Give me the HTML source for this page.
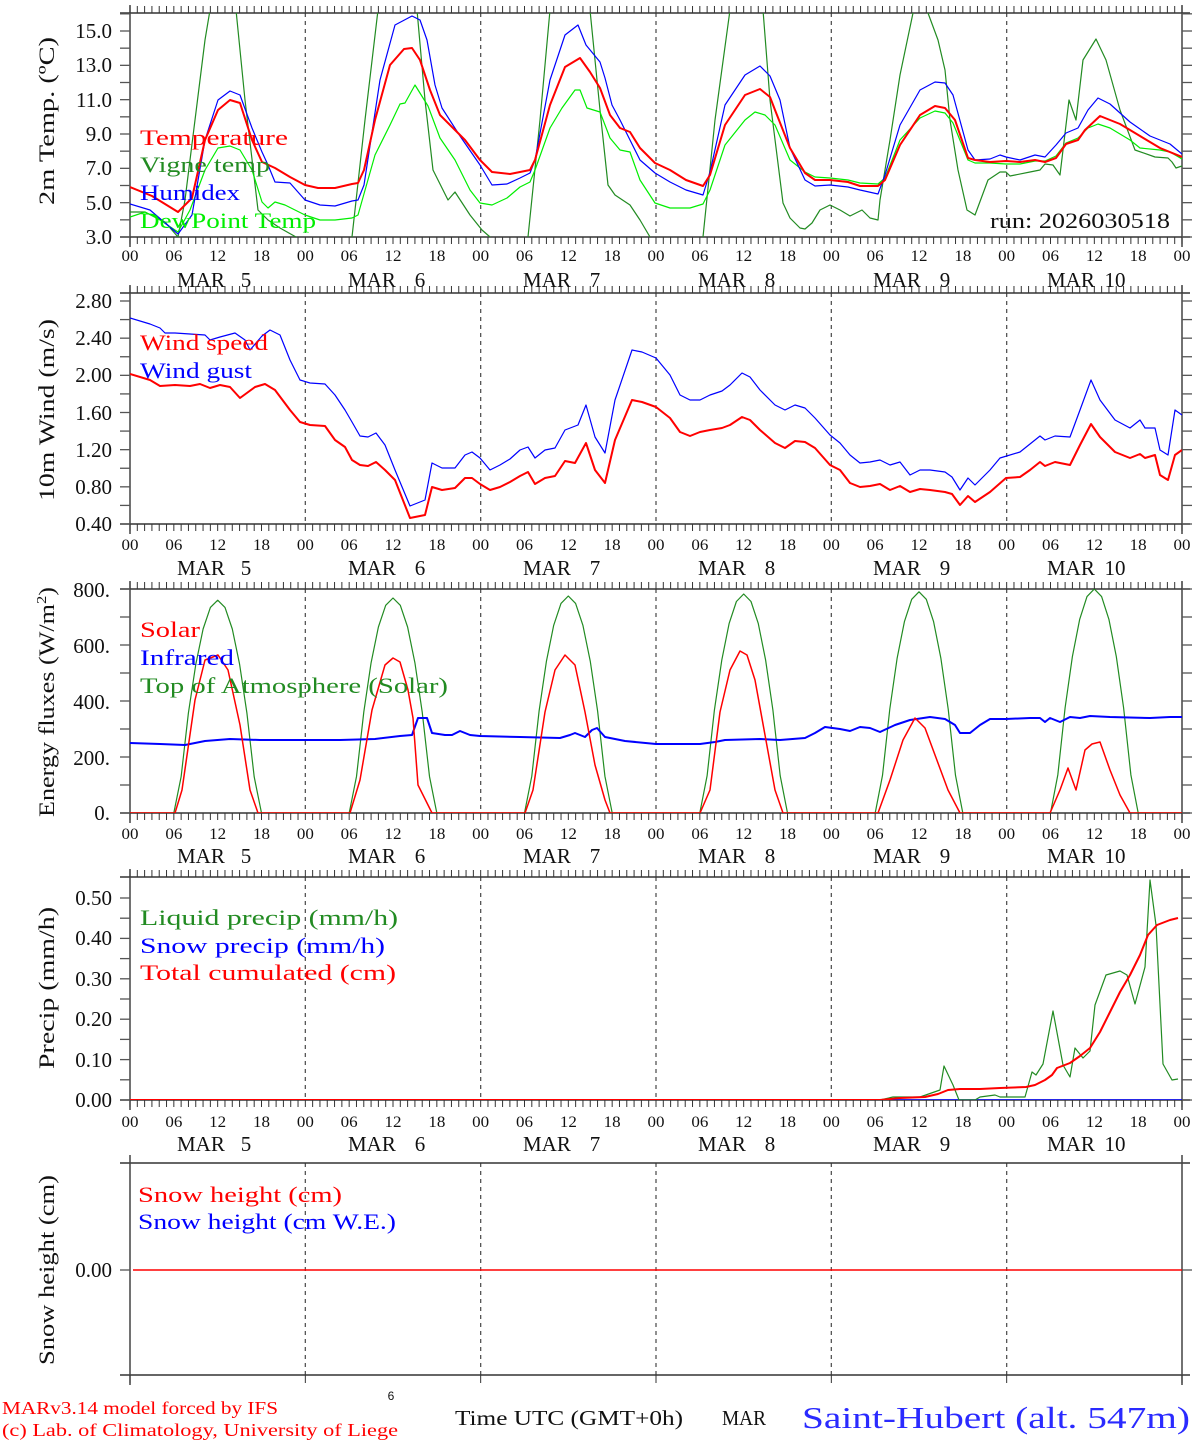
<!DOCTYPE html>
<html><head><meta charset="utf-8"><style>
html,body{margin:0;padding:0;background:#fff;}
svg{display:block;font-family:"Liberation Serif",serif;}
.t{font-size:21px;fill:#111;}
.xl{font-size:16px;fill:#111;}
.lg{font-size:22px;}
</style></head><body>
<svg id="s" width="1194" height="1440" viewBox="0 0 1194 1440" xmlns="http://www.w3.org/2000/svg">
<g id="g"></g>
<g class="t" text-anchor="end">
<text x="112" y="38">15.0</text><text x="112" y="72">13.0</text><text x="112" y="107">11.0</text><text x="112" y="141">9.0</text><text x="112" y="175">7.0</text><text x="112" y="210">5.0</text><text x="112" y="244">3.0</text>
<text x="112" y="308">2.80</text><text x="112" y="345">2.40</text><text x="112" y="382">2.00</text><text x="112" y="420">1.60</text><text x="112" y="457">1.20</text><text x="112" y="494">0.80</text><text x="112" y="531">0.40</text>
<text x="110" y="597">800.</text><text x="110" y="653">600.</text><text x="110" y="709">400.</text><text x="110" y="765">200.</text><text x="110" y="820">0.</text>
<text x="112" y="905">0.50</text><text x="112" y="945">0.40</text><text x="112" y="986">0.30</text><text x="112" y="1026">0.20</text><text x="112" y="1067">0.10</text><text x="112" y="1107">0.00</text>
<text x="112" y="1277">0.00</text>
</g>
<g class="t" text-anchor="middle" style="font-size:22px">
<text transform="translate(54,121) rotate(-90)" textLength="168" lengthAdjust="spacingAndGlyphs">2m Temp. (ºC)</text>
<text transform="translate(54,410) rotate(-90)" textLength="182" lengthAdjust="spacingAndGlyphs">10m Wind (m/s)</text>
<text transform="translate(54,702) rotate(-90)" textLength="230" lengthAdjust="spacingAndGlyphs">Energy fluxes (W/m<tspan dy="-8" font-size="14">2</tspan><tspan dy="8">)</tspan></text>
<text transform="translate(54,988) rotate(-90)" textLength="162" lengthAdjust="spacingAndGlyphs">Precip (mm/h)</text>
<text transform="translate(54,1270) rotate(-90)" textLength="190" lengthAdjust="spacingAndGlyphs">Snow height (cm)</text>
</g>
<g class="t" style="font-size:21px">
<text x="177" y="287">MAR</text><text x="246" y="287" text-anchor="middle">5</text>
<text x="348" y="287">MAR</text><text x="420" y="287" text-anchor="middle">6</text>
<text x="523" y="287">MAR</text><text x="595" y="287" text-anchor="middle">7</text>
<text x="698" y="287">MAR</text><text x="770" y="287" text-anchor="middle">8</text>
<text x="873" y="287">MAR</text><text x="945" y="287" text-anchor="middle">9</text>
<text x="1047" y="287">MAR</text><text x="1115" y="287" text-anchor="middle">10</text>
</g>
<g class="t" style="font-size:21px" transform="translate(0,288)">
<text x="177" y="287">MAR</text><text x="246" y="287" text-anchor="middle">5</text>
<text x="348" y="287">MAR</text><text x="420" y="287" text-anchor="middle">6</text>
<text x="523" y="287">MAR</text><text x="595" y="287" text-anchor="middle">7</text>
<text x="698" y="287">MAR</text><text x="770" y="287" text-anchor="middle">8</text>
<text x="873" y="287">MAR</text><text x="945" y="287" text-anchor="middle">9</text>
<text x="1047" y="287">MAR</text><text x="1115" y="287" text-anchor="middle">10</text>
</g>
<g class="t" style="font-size:21px" transform="translate(0,576)">
<text x="177" y="287">MAR</text><text x="246" y="287" text-anchor="middle">5</text>
<text x="348" y="287">MAR</text><text x="420" y="287" text-anchor="middle">6</text>
<text x="523" y="287">MAR</text><text x="595" y="287" text-anchor="middle">7</text>
<text x="698" y="287">MAR</text><text x="770" y="287" text-anchor="middle">8</text>
<text x="873" y="287">MAR</text><text x="945" y="287" text-anchor="middle">9</text>
<text x="1047" y="287">MAR</text><text x="1115" y="287" text-anchor="middle">10</text>
</g>
<g class="t" style="font-size:21px" transform="translate(0,864)">
<text x="177" y="287">MAR</text><text x="246" y="287" text-anchor="middle">5</text>
<text x="348" y="287">MAR</text><text x="420" y="287" text-anchor="middle">6</text>
<text x="523" y="287">MAR</text><text x="595" y="287" text-anchor="middle">7</text>
<text x="698" y="287">MAR</text><text x="770" y="287" text-anchor="middle">8</text>
<text x="873" y="287">MAR</text><text x="945" y="287" text-anchor="middle">9</text>
<text x="1047" y="287">MAR</text><text x="1115" y="287" text-anchor="middle">10</text>
</g>
<g class="xl" text-anchor="middle" id="xt">
<text x="130" y="261">00</text>
</g>
<g class="lg" lengthAdjust="spacingAndGlyphs">
<text x="140" y="145" fill="#ff0000" textLength="148" lengthAdjust="spacingAndGlyphs">Temperature</text>
<text x="140" y="172" fill="#228b22" textLength="130" lengthAdjust="spacingAndGlyphs">Vigne temp</text>
<text x="140" y="200" fill="#0000ff" textLength="100" lengthAdjust="spacingAndGlyphs">Humidex</text>
<text x="140" y="228" fill="#00ee00" textLength="176" lengthAdjust="spacingAndGlyphs">DewPoint Temp</text>
<text x="1170" y="228" fill="#111" text-anchor="end" textLength="180" lengthAdjust="spacingAndGlyphs">run: 2026030518</text>
<text x="140" y="350" fill="#ff0000" textLength="128" lengthAdjust="spacingAndGlyphs">Wind speed</text>
<text x="140" y="378" fill="#0000ff" textLength="112" lengthAdjust="spacingAndGlyphs">Wind gust</text>
<text x="140" y="637" fill="#ff0000" textLength="60" lengthAdjust="spacingAndGlyphs">Solar</text>
<text x="140" y="665" fill="#0000ff" textLength="94" lengthAdjust="spacingAndGlyphs">Infrared</text>
<text x="140" y="693" fill="#228b22" textLength="308" lengthAdjust="spacingAndGlyphs">Top of Atmosphere (Solar)</text>
<text x="140" y="925" fill="#228b22" textLength="258" lengthAdjust="spacingAndGlyphs">Liquid precip (mm/h)</text>
<text x="140" y="953" fill="#0000ff" textLength="245" lengthAdjust="spacingAndGlyphs">Snow precip (mm/h)</text>
<text x="140" y="980" fill="#ff0000" textLength="256" lengthAdjust="spacingAndGlyphs">Total cumulated (cm)</text>
<text x="138" y="1202" fill="#ff0000" textLength="204" lengthAdjust="spacingAndGlyphs">Snow height (cm)</text>
<text x="138" y="1229" fill="#0000ff" textLength="258" lengthAdjust="spacingAndGlyphs">Snow height (cm W.E.)</text>
</g>
<text x="391" y="1400" font-size="12" text-anchor="middle" fill="#111" font-family="Liberation Sans,sans-serif">6</text>
<text x="2" y="1414" font-size="18" fill="#ff0000" textLength="276" lengthAdjust="spacingAndGlyphs">MARv3.14 model forced by IFS</text>
<text x="2" y="1436" font-size="18" fill="#ff0000" textLength="396" lengthAdjust="spacingAndGlyphs">(c) Lab. of Climatology, University of Liege</text>
<text x="455" y="1425" font-size="21" fill="#111" textLength="228" lengthAdjust="spacingAndGlyphs">Time UTC (GMT+0h)</text>
<text x="722" y="1425" font-size="21" fill="#111" textLength="44" lengthAdjust="spacingAndGlyphs">MAR</text>
<text x="802" y="1428" font-size="31" fill="#2a2aff" textLength="388" lengthAdjust="spacingAndGlyphs">Saint-Hubert (alt. 547m)</text>
</svg>
<script>
(function(){
var NS="http://www.w3.org/2000/svg",g=document.getElementById('g');
function el(n,a){var e=document.createElementNS(NS,n);for(var k in a)e.setAttribute(k,a[k]);g.appendChild(e);return e;}
function X(h){return 130+h*1052/144;}
var P=[[13,237],[293,524],[589,813],[877,1100],[1163,1375]];
var defs=document.createElementNS(NS,'defs');g.appendChild(defs);
P.forEach(function(p,i){var c=document.createElementNS(NS,'clipPath');c.setAttribute('id','c'+i);var r=document.createElementNS(NS,'rect');r.setAttribute('x',130);r.setAttribute('y',p[0]);r.setAttribute('width',1052);r.setAttribute('height',p[1]-p[0]);c.appendChild(r);defs.appendChild(c);});
P.forEach(function(p,i){
 for(var d=1;d<6;d++){el('line',{x1:X(24*d),x2:X(24*d),y1:p[0],y2:p[1],stroke:'#555','stroke-dasharray':'4,4','stroke-width':1.3});}
 el('line',{x1:120,x2:1190,y1:p[0],y2:p[0],stroke:'#333','stroke-width':1.5});
 el('line',{x1:120,x2:1190,y1:p[1],y2:p[1],stroke:'#333','stroke-width':1.5});
 el('line',{x1:130,x2:130,y1:p[0]-8,y2:p[1]+10,stroke:'#444','stroke-width':1.5});
 el('line',{x1:1182,x2:1182,y1:p[0]-8,y2:p[1]+10,stroke:'#444','stroke-width':1.5});
 if(i<4){for(var h=0;h<=144;h++){el('line',{x1:X(h),x2:X(h),y1:p[0]-7,y2:p[0],stroke:'#333'});el('line',{x1:X(h),x2:X(h),y1:p[1],y2:p[1]+7,stroke:'#333'});}}
 else{for(var d=0;d<=6;d++){el('line',{x1:X(24*d),x2:X(24*d),y1:p[1],y2:p[1]+8,stroke:'#333'});}}
});
function yt(list){list.forEach(function(y){el('line',{x1:120,x2:130,y1:y,y2:y,stroke:'#555','stroke-width':1.3});el('line',{x1:1182,x2:1192,y1:y,y2:y,stroke:'#555','stroke-width':1.3});});}
var a=[];for(var v=3;v<=16;v++)a.push(237-(v-3)*206/12);yt(a);
a=[];for(var v=0.4;v<=2.81;v+=0.2)a.push(524-(v-0.4)/2.4*223);yt(a);
a=[];for(var v=0;v<=800;v+=100)a.push(813-v*0.28);yt(a);
a=[];for(var v=0;v<=0.51;v+=0.05)a.push(1100-v*404);yt(a);
yt([1270]);
var xt=document.getElementById('xt');xt.innerHTML='';
[261,550,839,1127].forEach(function(y){for(var d=0;d<=6;d++){['00','06','12','18'].forEach(function(s,k){if(d==6&&k>0)return;var t=document.createElementNS(NS,'text');t.setAttribute('x',X(24*d+6*k));t.setAttribute('y',y);t.setAttribute('textLength','17');t.setAttribute('lengthAdjust','spacingAndGlyphs');t.textContent=s;xt.appendChild(t);});}});
function pl(pts,col,w,ci){el('polyline',{points:pts,fill:'none',stroke:col,'stroke-width':w,'clip-path':'url(#c'+ci+')','stroke-linejoin':'round'});}
pl("130,212 145,212 165,222 178,237 185,200 195,120 205,40 210,10 215,-40 230,-60 236,10 245,100 258,210 268,220 280,228 296,237 305,250 340,250 352,237 365,120 378,10 390,-60 410,-60 417,10 425,100 433,170 448,200 455,192 470,215 482,230 490,237 500,250 520,250 528,237 540,120 550,10 560,-60 585,-60 590,10 600,110 608,185 615,195 630,205 640,220 650,237 660,250 695,250 703,237 715,120 730,10 740,-60 758,-60 763,10 770,100 783,203 790,218 800,228 805,229 812,223 820,210 830,205 840,210 850,216 862,210 870,218 878,220 880,200 890,140 900,75 913,13 920,-10 925,0 928,13 938,40 945,70 950,120 958,170 967,210 975,215 988,180 1000,172 1006,172 1010,176 1030,172 1040,170 1045,164 1053,165 1060,175 1069,100 1076,120 1083,60 1096,39 1106,60 1120,110 1135,150 1155,157 1168,158 1172,162 1176,168 1182,166","#228b22",1.2,0);
pl("130,217 145,212 160,220 178,232 190,210 205,170 218,148 230,146 240,150 252,170 262,202 268,208 275,202 285,205 305,215 320,220 335,220 352,218 358,215 375,155 390,125 400,104 405,103 415,85 428,106 440,138 455,160 470,190 480,203 492,205 507,198 520,187 530,182 535,170 550,128 562,108 575,90 580,90 587,108 600,112 610,138 620,150 630,152 640,180 655,203 670,208 690,208 703,204 710,190 725,145 745,120 755,112 765,115 775,125 790,160 805,172 815,177 830,178 848,180 860,183 878,184 885,178 900,140 920,118 935,111 945,113 953,123 968,160 975,163 990,163 1006,164 1020,164 1035,161 1045,161 1056,156 1066,143 1078,138 1088,128 1098,124 1110,128 1130,140 1140,148 1160,150 1170,152 1182,159","#00ee00",1.2,0);
pl("130,204 150,210 178,234 192,215 205,140 218,100 230,91 240,95 252,128 262,152 268,165 275,182 290,183 305,200 320,205 335,206 352,201 358,200 364,185 380,80 395,25 412,16 420,20 427,40 435,85 442,108 460,136 480,165 492,185 507,184 520,178 530,173 535,160 550,80 565,35 578,25 586,45 600,62 605,78 612,105 620,120 630,140 640,160 655,173 670,182 686,190 703,195 710,172 725,105 745,75 760,66 770,76 780,100 790,148 805,180 815,186 830,185 848,187 860,190 878,194 885,175 900,125 920,90 935,82 945,83 953,95 968,150 975,160 990,159 1000,155 1006,157 1020,160 1035,155 1045,157 1056,145 1066,133 1078,128 1088,110 1098,98 1110,104 1130,122 1150,136 1170,144 1182,154","#0000ff",1.2,0);
pl("130,187 152,196 178,212 192,198 205,140 218,110 230,100 240,103 252,140 262,162 275,168 290,177 305,185 318,188 335,188 352,184 358,183 364,170 375,120 390,65 404,49 412,48 420,60 430,90 440,115 455,130 465,140 480,160 492,172 510,174 530,170 535,160 550,105 565,67 580,58 590,72 600,88 610,115 620,128 630,132 640,148 655,163 670,170 686,180 703,186 710,175 725,125 745,95 760,89 770,97 775,110 790,148 805,173 815,180 830,180 848,182 860,186 878,186 885,180 900,145 920,115 935,106 945,108 955,120 968,158 975,160 990,162 1006,161 1020,162 1035,160 1045,162 1056,158 1066,144 1078,140 1085,130 1100,116 1120,124 1140,136 1160,148 1182,157","#ff0000",2,0);
pl("130,318 150,324 160,328 165,333 175,333 190,334 205,335 210,340 220,337 235,333 245,340 250,350 262,336 270,330 280,335 290,360 300,380 310,383 325,384 335,395 345,410 352,422 360,436 368,437 376,433 385,445 395,470 410,506 425,500 432,463 442,468 455,468 465,455 472,452 480,458 490,470 500,465 510,459 520,450 528,447 535,458 545,450 555,448 565,430 578,425 586,405 595,437 605,453 615,400 632,350 642,352 656,358 670,375 680,395 690,400 700,400 710,395 722,391 730,385 742,373 750,377 760,390 775,405 785,410 795,405 805,408 815,418 830,435 840,443 850,455 860,463 870,462 880,460 890,465 900,462 910,475 920,470 930,470 945,472 952,477 960,490 968,478 975,485 990,470 1000,458 1020,452 1030,444 1040,436 1045,440 1055,436 1070,437 1080,410 1091,380 1100,400 1115,420 1130,428 1140,420 1145,428 1155,428 1160,450 1168,455 1175,410 1182,415","#0000ff",1.2,1);
pl("130,374 150,380 160,386 175,385 190,386 200,384 210,388 220,385 230,387 240,398 255,387 265,384 275,390 290,410 300,422 310,425 325,426 335,440 345,447 352,460 360,465 368,466 376,462 385,470 395,480 410,518 425,515 432,487 442,490 455,488 465,478 472,478 480,484 490,490 500,487 510,482 520,476 528,472 535,484 545,478 555,476 565,461 575,463 586,443 595,470 605,483 615,440 632,400 642,402 656,407 670,418 680,432 690,436 700,432 710,430 722,428 730,425 742,417 750,420 760,430 775,443 785,448 795,441 805,442 815,448 830,465 840,470 850,483 860,487 870,486 880,484 890,490 900,486 910,492 920,489 930,490 945,492 952,494 960,505 968,496 975,502 990,492 1006,478 1020,477 1030,470 1040,462 1045,466 1055,462 1070,465 1080,445 1091,424 1100,437 1115,452 1130,458 1140,454 1145,458 1155,455 1160,475 1168,480 1175,455 1182,450","#ff0000",2,1);
var pk=[760,768,775,782,790,800],s=[];
for(var h=0;h<=144;h++){var hd=h%24,d=Math.floor(h/24),v=0;if(d>5)d=5;var c=Math.cos(Math.PI*(hd-12)/12.4);if(c>0.2)v=pk[d]*Math.pow((c-0.2)/0.8,0.85);s.push(X(h).toFixed(1)+','+(813-v*0.28).toFixed(1));}
pl(s.join(' '),"#228b22",1.2,2);
pl("130,743 160,744 185,745 205,741 230,739 260,740 300,740 340,740 375,739 400,736 412,735 418,718 427,718 432,733 445,735 452,735 460,731 470,735 480,736 520,737 560,738 570,735 575,733 585,737 592,730 597,728 605,737 625,741 656,744 700,744 715,742 725,740 760,739 780,740 805,738 815,733 825,727 840,729 850,731 860,727 870,728 880,732 895,725 910,720 930,717 945,719 955,725 960,733 970,733 980,725 990,719 1006,719 1030,718 1040,718 1045,722 1050,718 1060,722 1070,717 1080,718 1090,716 1110,717 1150,718 1170,717 1182,717","#0000ff",2,2);
pl("130,813 175,813 182,790 195,700 205,660 218,655 228,670 240,725 250,790 258,813 350,813 360,780 372,710 385,665 393,658 400,662 408,690 413,718 418,785 432,813 525,813 533,790 545,712 555,670 565,655 575,665 585,712 595,765 605,800 610,813 700,813 710,790 720,712 730,670 740,651 747,655 755,680 765,735 775,790 783,813 878,813 890,780 903,740 915,718 925,728 935,755 948,790 960,813 1050,813 1060,790 1068,768 1076,790 1085,750 1092,744 1100,742 1110,770 1120,795 1130,813 1182,813","#ff0000",1.5,2);
pl("130,1100 1182,1100","#0000ff",1.5,3);
pl("130,1100 880,1100 893,1097 900,1097 920,1097 940,1090 944,1066 953,1085 959,1100 975,1100 980,1097 995,1095 1000,1097 1025,1097 1032,1072 1036,1075 1043,1064 1053,1011 1063,1065 1070,1077 1075,1048 1083,1058 1090,1051 1095,1005 1106,975 1120,971 1127,975 1135,1004 1145,967 1150,880 1156,925 1163,1064 1172,1080 1178,1079","#228b22",1.2,3);
pl("130,1100 860,1100 880,1100 900,1098 925,1097 938,1094 948,1090 960,1089 980,1089 1000,1088 1026,1087 1035,1085 1045,1080 1052,1075 1057,1068 1070,1063 1080,1056 1090,1048 1100,1032 1110,1012 1120,992 1130,975 1140,955 1148,935 1157,925 1170,920 1178,918","#ff0000",2,3);
pl("133,1270 1182,1270","#ff0000",1.5,4);
})();
</script>
</body></html>
